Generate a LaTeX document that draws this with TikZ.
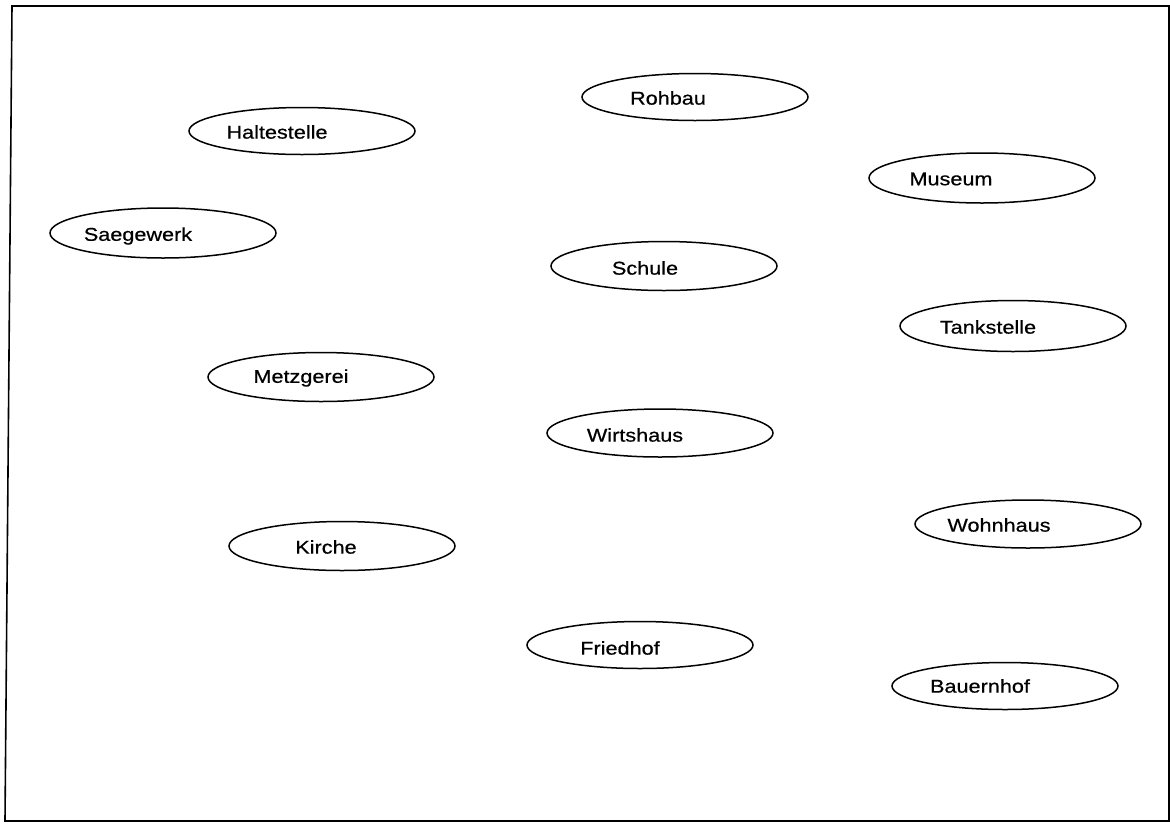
\documentclass[tikz,border=0pt]{standalone}
\usepackage{fontspec}
\newfontfamily\lab{Liberation Sans}[FakeStretch=1.17,FakeBold=0.6]
\usetikzlibrary{shapes.geometric}
\tikzset{
  place/.style={draw=black, line width=1.5pt, ellipse, minimum width=226pt, minimum height=47pt, inner sep=0pt},
  lbl/.style={font=\lab\fontsize{18.5}{20}\selectfont, inner sep=0pt, anchor=center},
  frame/.style={draw=black, line width=1.6pt}
}
\begin{document}
\begin{tikzpicture}[x=1pt,y=-1pt]
\useasboundingbox (0,0) rectangle (1170,823);
\draw[frame] (12,6) -- (1169,6) -- (1169,821) -- (5,821) -- cycle;

\node[place] (rohbau) at (695,97) {};
\node[lbl] (rohbau-t) at (668,98) {Rohbau};

\node[place] (haltestelle) at (302,131) {};
\node[lbl] (haltestelle-t) at (277,132) {Haltestelle};

\node[place, minimum height=50pt] (museum) at (982,178) {};
\node[lbl] (museum-t) at (951,179) {Museum};

\node[place, minimum height=50pt] (saegewerk) at (163,233) {};
\node[lbl] (saegewerk-t) at (138,236) {Saegewerk};

\node[place, minimum height=49pt] (schule) at (664,266) {};
\node[lbl] (schule-t) at (645,268) {Schule};

\node[place, minimum height=51pt] (tankstelle) at (1013,326) {};
\node[lbl] (tankstelle-t) at (988,327) {Tankstelle};

\node[place, minimum height=49pt] (metzgerei) at (321,377) {};
\node[lbl] (metzgerei-t) at (301,378) {Metzgerei};

\node[place, minimum height=48pt] (wirtshaus) at (660,433) {};
\node[lbl] (wirtshaus-t) at (635,435) {Wirtshaus};

\node[place, minimum height=48pt] (wohnhaus) at (1028,524) {};
\node[lbl] (wohnhaus-t) at (999,525) {Wohnhaus};

\node[place, minimum height=49pt] (kirche) at (342,546) {};
\node[lbl] (kirche-t) at (326,547) {Kirche};

\node[place] (friedhof) at (640,645) {};
\node[lbl] (friedhof-t) at (620,648) {Friedhof};

\node[place] (bauernhof) at (1005,686) {};
\node[lbl] (bauernhof-t) at (980,686) {Bauernhof};
\end{tikzpicture}
\end{document}
